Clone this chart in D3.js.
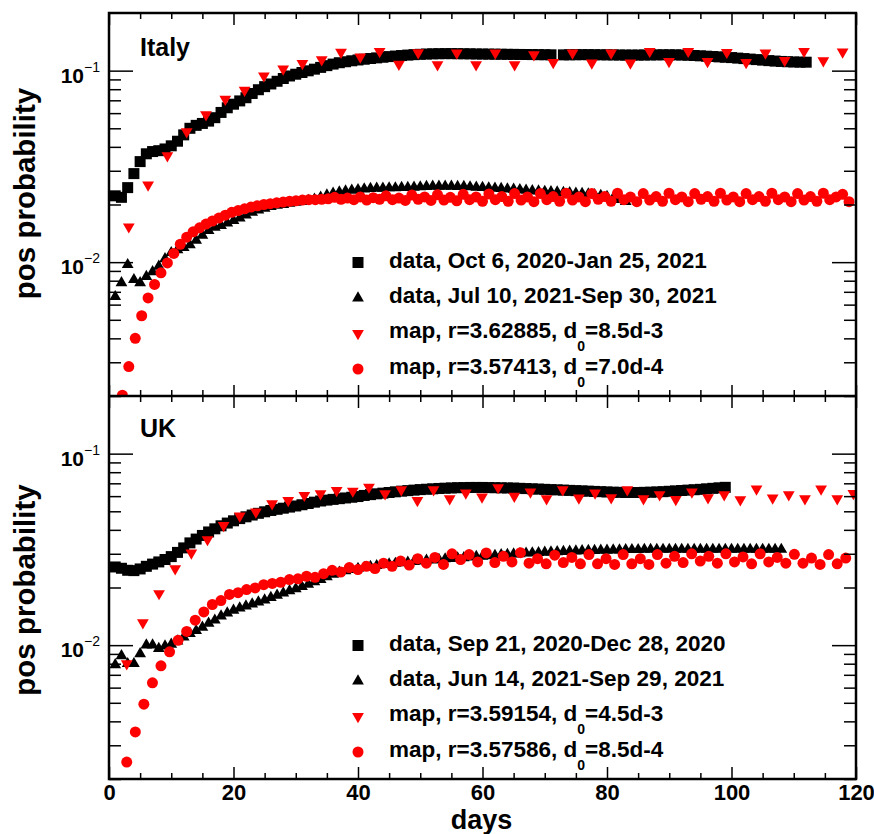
<!DOCTYPE html>
<html><head><meta charset="utf-8">
<script src="https://cdn.jsdelivr.net/npm/d3@7"></script>
<style>body{margin:0;background:#fff}svg{display:block}</style>
</head><body>
<svg id="chart" width="874" height="834"></svg>
<script>
// ---------------- DATA ----------------
const xMajorTicks = [0, 20, 40, 60, 80, 100, 120];
const xMinorTicks = [5, 10, 15, 25, 30, 35, 45, 50, 55, 65, 70, 75, 85, 90, 95, 105, 110, 115];
const yMajorTicks = [0.01, 0.1];
const yMajorLabels = ["\u22122", "\u22121"];
const yMinorTicks = [0.002, 0.003, 0.004, 0.005, 0.006, 0.007, 0.008, 0.009, 0.02, 0.03, 0.04, 0.05, 0.06, 0.07, 0.08, 0.09];

// Italy: data Oct 6, 2020 - Jan 25, 2021 (day 1..112, day 72 missing)
const italyDataA = [.0222,.0218,.0245,.0290,.0335,.0368,.0378,.0382,.0390,.0405,
 .0428,.0462,.0500,.0518,.0530,.0545,.0568,.0605,.0640,.0668,
 .0695,.0722,.0760,.0795,.0825,.0852,.0880,.0910,.0938,.0958,
 .0978,.0998,.1018,.1040,.1062,.1082,.1100,.1113,.1126,.1137,
 .1147,.1157,.1166,.1175,.1184,.1192,.1199,.1206,.1212,.1217,
 .1221,.1224,.1226,.1227,.1227,.1226,.1225,.1224,.1222,.1221,
 .1220,.1219,.1218,.1217,.1216,.1215,.1214,.1213,.1212,.1211,
 .1210,null,.1209,.1210,.1211,.1212,.1212,.1211,.1210,.1209,
 .1208,.1207,.1206,.1206,.1206,.1207,.1208,.1209,.1210,.1210,
 .1209,.1207,.1204,.1200,.1195,.1190,.1185,.1180,.1175,.1170,
 .1163,.1156,.1149,.1142,.1135,.1128,.1122,.1117,.1113,.1110,
 .1108,.1107];
// Italy: data Jul 10, 2021 - Sep 30, 2021 (day 1..83)
const italyDataB = [.0066,.0078,.0097,.0081,.0078,.0084,.0089,.0095,.0104,.0112,
 .0116,.0119,.0123,.0130,.0138,.0146,.0152,.0155,.0160,.0165,
 .0170,.0176,.0182,.0187,.0191,.0195,.0198,.0200,.0203,.0205,
 .0207,.0210,.0213,.0218,.0224,.0229,.0232,.0235,.0237,.0239,
 .0241,.0242,.0243,.0243,.0244,.0244,.0245,.0245,.0246,.0247,
 .0248,.0249,.0249,.0249,.0249,.0248,.0248,.0247,.0246,.0245,
 .0244,.0243,.0242,.0241,.0240,.0239,.0237,.0236,.0235,.0234,
 .0233,.0232,.0231,.0230,.0229,.0228,.0227,.0225,.0223,.0220,
 .0216,.0212,.0207];
// Italy: map r=3.62885
const italyMapADays = [3.18,6.28,9.38,12.48,15.58,18.68,21.78,24.88,27.98,31.07,
 34.17,37.27,40.37,43.47,46.57,49.67,52.77,55.87,58.97,62.06,
 65.16,68.26,71.36,74.46,77.56,80.66,83.76,86.86,89.96,93.05,
 96.15,99.25,102.35,105.45,108.55,111.65,114.75,117.85];
const italyMapA = [.0153,.0253,.0360,.0480,.0589,.0710,.0790,.0940,.1020,.1090,
 .1140,.1250,.1180,.1260,.1080,.1240,.1075,.1237,.1075,.1237,
 .1075,.1213,.1105,.1237,.1097,.1237,.1097,.1262,.1118,.1262,
 .1118,.1247,.1105,.1237,.1132,.1262,.1128,.1252];
// Italy: map r=3.57413
const italyMapBDays = [2.15,3.18,4.22,5.25,6.28,7.32,8.35,9.38,10.41,11.45,
 12.48,13.51,14.55,15.58,16.61,17.65,18.68,19.71,20.74,21.78,
 22.81,23.84,24.88,25.91,26.94,27.98,29.01,30.04,31.07,32.11,
 33.14,34.17,35.21,36.24,37.27,38.31,39.34,40.37,41.40,42.44,
 43.47,44.50,45.54,46.57,47.60,48.64,49.67,50.70,51.73,52.77,
 53.80,54.83,55.87,56.90,57.93,58.97,60.00,61.03,62.06,63.10,
 64.13,65.16,66.20,67.23,68.26,69.30,70.33,71.36,72.39,73.43,
 74.46,75.49,76.53,77.56,78.59,79.63,80.66,81.69,82.72,83.76,
 84.79,85.82,86.86,87.89,88.92,89.96,90.99,92.02,93.05,94.09,
 95.12,96.15,97.19,98.22,99.25,100.29,101.32,102.35,103.38,104.42,
 105.45,106.48,107.52,108.55,109.58,110.62,111.65,112.68,113.71,114.75,
 115.78,116.81,117.85,118.88];
const italyMapB = [.00202,.00285,.00400,.00525,.00650,.00765,.00880,.00990,.0111,.0124,
 .0135,.0144,.0151,.0158,.0164,.0170,.0176,.0182,.0186,.0190,
 .0194,.0197,.0200,.0202,.0204,.0206,.0208,.0209,.0211,.0212,
 .0212,.0213,.0214,.0218,.0213,.0216,.0212,.0219,.0211,.0217,
 .0213,.0222,.0212,.0216,.0210,.0224,.0213,.0219,.0210,.0225,
 .0211,.0218,.0209,.0226,.0212,.0219,.0208,.0227,.0212,.0220,
 .0208,.0228,.0211,.0219,.0207,.0228,.0212,.0220,.0208,.0229,
 .0211,.0219,.0207,.0228,.0213,.0220,.0208,.0229,.0212,.0219,
 .0207,.0228,.0211,.0220,.0208,.0229,.0212,.0219,.0207,.0228,
 .0213,.0220,.0208,.0229,.0211,.0219,.0207,.0228,.0212,.0220,
 .0208,.0229,.0212,.0219,.0207,.0228,.0211,.0220,.0208,.0229,
 .0212,.0219,.0226,.0207];

// UK: data Sep 21, 2020 - Dec 28, 2020 (day 1..99)
const ukDataA = [.0256,.0252,.0246,.0245,.0250,.0258,.0265,.0272,.0280,.0290,
 .0305,.0322,.0342,.0358,.0374,.0390,.0405,.0420,.0434,.0446,
 .0458,.0468,.0478,.0488,.0497,.0505,.0512,.0519,.0526,.0533,
 .0541,.0549,.0558,.0566,.0572,.0577,.0582,.0587,.0592,.0597,
 .0605,.0611,.0617,.0622,.0627,.0632,.0637,.0641,.0645,.0649,
 .0652,.0655,.0658,.0660,.0662,.0664,.0665,.0666,.0666,.0666,
 .0665,.0664,.0663,.0662,.0661,.0659,.0657,.0655,.0653,.0651,
 .0649,.0647,.0645,.0643,.0641,.0639,.0637,.0635,.0633,.0631,
 .0629,.0628,.0627,.0627,.0627,.0628,.0629,.0631,.0633,.0636,
 .0639,.0642,.0645,.0648,.0651,.0655,.0659,.0663,.0667];
// UK: data Jun 14, 2021 - Sep 29, 2021 (day 1..108)
const ukDataB = [.0079,.0088,.0080,.0080,.0090,.0100,.0100,.0096,.0099,.0101,
 .0105,.0110,.0115,.0119,.0124,.0130,.0135,.0142,.0147,.0152,
 .0156,.0160,.0164,.0168,.0172,.0177,.0182,.0187,.0192,.0197,
 .0202,.0208,.0214,.0220,.0227,.0234,.0240,.0244,.0248,.0251,
 .0254,.0257,.0260,.0263,.0265,.0267,.0269,.0271,.0273,.0275,
 .0277,.0278,.0280,.0282,.0283,.0285,.0286,.0288,.0290,.0291,
 .0293,.0294,.0296,.0297,.0299,.0300,.0302,.0303,.0304,.0305,
 .0306,.0307,.0308,.0309,.0310,.0311,.0312,.0312,.0313,.0313,
 .0314,.0314,.0315,.0315,.0315,.0316,.0316,.0316,.0316,.0316,
 .0316,.0316,.0316,.0316,.0316,.0316,.0316,.0316,.0316,.0316,
 .0316,.0316,.0316,.0316,.0316,.0316,.0316,.0316];
// UK: map r=3.59154
const ukMapADays = [2.85,5.44,8.04,10.63,13.23,15.82,18.41,21.01,23.60,26.20,
 28.79,31.38,33.98,36.57,39.17,41.76,44.35,46.95,49.54,52.14,
 54.73,57.32,59.92,62.51,65.11,67.70,70.29,72.89,75.48,78.08,
 80.67,83.26,85.86,88.45,91.05,93.64,96.23,98.83,101.42,104.02,
 106.61,109.20,111.80,114.39,116.99,119.58];
const ukMapA = [.0080,.0131,.0186,.0251,.0303,.0356,.0422,.0473,.0496,.0548,
 .0570,.0606,.0618,.0643,.0638,.0669,.0618,.0649,.0570,.0649,
 .0582,.0623,.0594,.0665,.0599,.0631,.0582,.0649,.0587,.0623,
 .0589,.0649,.0582,.0611,.0577,.0631,.0589,.0611,.0575,.0655,
 .0587,.0611,.0582,.0655,.0582,.0620];
// UK: map r=3.57586
const ukMapBDays = [2.85,4.23,5.60,6.98,8.35,9.73,11.10,12.48,13.85,15.23,
 16.60,17.98,19.35,20.73,22.10,23.48,24.85,26.23,27.60,28.98,
 30.35,31.73,33.10,34.48,35.85,37.23,38.60,39.98,41.35,42.73,
 44.10,45.48,46.85,48.23,49.60,50.98,52.35,53.73,55.10,56.48,
 57.85,59.23,60.60,61.98,63.35,64.73,66.10,67.48,68.85,70.23,
 71.60,72.98,74.35,75.73,77.10,78.48,79.85,81.23,82.60,83.98,
 85.35,86.73,88.10,89.48,90.85,92.23,93.60,94.98,96.35,97.73,
 99.10,100.48,101.85,103.23,104.60,105.98,107.35,108.73,110.10,111.48,
 112.85,114.23,115.60,116.98,118.35];
const ukMapB = [.00245,.00352,.00492,.00636,.00780,.00923,.0106,.0118,.0135,.0149,
 .0163,.0171,.0184,.0188,.0195,.0199,.0207,.0210,.0213,.0220,
 .0222,.0229,.0226,.0236,.0246,.0241,.0254,.0248,.0258,.0251,
 .0268,.0258,.0275,.0262,.0283,.0268,.0287,.0264,.0300,.0280,
 .0297,.0272,.0303,.0270,.0291,.0272,.0304,.0268,.0283,.0266,
 .0295,.0270,.0287,.0266,.0297,.0266,.0283,.0264,.0297,.0266,
 .0283,.0264,.0297,.0268,.0291,.0270,.0300,.0275,.0291,.0268,
 .0300,.0272,.0289,.0266,.0300,.0272,.0287,.0268,.0298,.0268,
 .0285,.0264,.0297,.0266,.0285];

const italyLegend = [
  ["data, Oct 6, 2020-Jan 25, 2021", "", ""],
  ["data, Jul 10, 2021-Sep 30, 2021", "", ""],
  ["map, r=3.62885, d", "0", "=8.5d-3"],
  ["map, r=3.57413, d", "0", "=7.0d-4"]
];
const ukLegend = [
  ["data, Sep 21, 2020-Dec 28, 2020", "", ""],
  ["data, Jun 14, 2021-Sep 29, 2021", "", ""],
  ["map, r=3.59154, d", "0", "=4.5d-3"],
  ["map, r=3.57586, d", "0", "=8.5d-4"]
];

// ---------------- DRAWING ----------------
const FONT = "'Liberation Sans', Arial, Helvetica, sans-serif";
const svg = d3.select("#chart").style("font-family", FONT);
svg.append("rect").attr("width", 874).attr("height", 834).attr("fill", "#fff");

const L = 109, R = 856;
const x = d3.scaleLinear().domain([0, 120]).range([L, R]);

const markerDefs = [
  {type: d3.symbolSquare, size: 121, color: "#000", rot: 0},
  {type: d3.symbolTriangle, size: 60, color: "#000", rot: 0},
  {type: d3.symbolTriangle, size: 60, color: "#f00", rot: 180},
  {type: d3.symbolCircle, size: 95, color: "#f00", rot: 0}
];

const panels = [
  {name: "Italy", top: 13, bottom: 396, titleY: 193.5,
   series: [
     {days: italyDataA.map((v, i) => i + 1), vals: italyDataA},
     {days: italyDataB.map((v, i) => i + 1), vals: italyDataB},
     {days: italyMapADays, vals: italyMapA},
     {days: italyMapBDays, vals: italyMapB}],
   legend: italyLegend},
  {name: "UK", top: 396, bottom: 779, titleY: 590,
   series: [
     {days: ukDataA.map((v, i) => i + 1), vals: ukDataA},
     {days: ukDataB.map((v, i) => i + 1), vals: ukDataB},
     {days: ukMapADays, vals: ukMapA},
     {days: ukMapBDays, vals: ukMapB}],
   legend: ukLegend}
];

panels.forEach((p, pi) => {
  const y = d3.scaleLog().domain([0.002, 0.2]).range([p.bottom, p.top]);
  const clipId = "clip" + pi;
  svg.append("clipPath").attr("id", clipId).append("rect")
    .attr("x", L).attr("y", p.top).attr("width", R - L).attr("height", p.bottom - p.top);

  // markers
  const gm = svg.append("g").attr("clip-path", `url(#${clipId})`);
  p.series.forEach((s, si) => {
    const md = markerDefs[si];
    const sym = d3.symbol().type(md.type).size(md.size);
    const pts = s.vals.map((v, i) => [s.days[i], v]).filter(d => d[1] != null);
    gm.append("g").selectAll("path").data(pts).join("path")
      .attr("d", sym)
      .attr("fill", md.color)
      .attr("transform", d => `translate(${x(d[0])},${y(d[1])}) rotate(${md.rot})`);
  });

  // axes ticks
  const tickStyle = g => {
    g.select(".domain").remove();
    g.selectAll(".tick line").attr("stroke", "#000").attr("stroke-width", 1.5);
    g.selectAll(".tick text").remove();
  };
  svg.append("g").attr("transform", `translate(${L},0)`)
    .call(d3.axisRight(y).tickValues(yMajorTicks).tickSize(24)).call(tickStyle);
  svg.append("g").attr("transform", `translate(${L},0)`)
    .call(d3.axisRight(y).tickValues(yMinorTicks).tickSize(12)).call(tickStyle);
  svg.append("g").attr("transform", `translate(${R},0)`)
    .call(d3.axisLeft(y).tickValues(yMajorTicks).tickSize(24)).call(tickStyle);
  svg.append("g").attr("transform", `translate(${R},0)`)
    .call(d3.axisLeft(y).tickValues(yMinorTicks).tickSize(12)).call(tickStyle);
  svg.append("g").attr("transform", `translate(0,${p.top})`)
    .call(d3.axisBottom(x).tickValues(xMajorTicks).tickSize(12)).call(tickStyle);
  svg.append("g").attr("transform", `translate(0,${p.top})`)
    .call(d3.axisBottom(x).tickValues(xMinorTicks).tickSize(6)).call(tickStyle);
  svg.append("g").attr("transform", `translate(0,${p.bottom})`)
    .call(d3.axisTop(x).tickValues(xMajorTicks).tickSize(pi === 0 ? 11 : 12)).call(tickStyle);
  svg.append("g").attr("transform", `translate(0,${p.bottom})`)
    .call(d3.axisTop(x).tickValues(xMinorTicks).tickSize(6)).call(tickStyle);

  // y tick labels 10^-n
  const yl = svg.append("g").attr("transform", `translate(${L},0)`)
    .call(d3.axisLeft(y).tickValues(yMajorTicks).tickSize(0).tickPadding(9).tickFormat(() => ""));
  yl.select(".domain").remove();
  yl.selectAll(".tick text").each(function(d, i) {
    const t = d3.select(this).attr("dy", null).attr("fill", "#000")
      .attr("font-family", FONT).attr("text-anchor", "end");
    t.append("tspan").attr("dy", 11.5).attr("font-size", 21).attr("font-weight", "bold").text("10");
    t.append("tspan").attr("dy", -11).attr("font-size", 14).text(yMajorLabels[i]);
  });

  // panel name
  svg.append("text").attr("x", 140).attr("y", p.top + (pi === 0 ? 43 : 41))
    .attr("font-size", 25).attr("font-weight", "bold").text(p.name);

  // y title
  svg.append("text").attr("transform", `translate(35,${p.titleY}) rotate(-90)`)
    .attr("text-anchor", "middle").attr("font-size", 29.5).attr("font-weight", "bold")
    .text("pos probability");

  // legend
  const legOff = [[249.5, 255], [285, 290], [320.5, 325], [356, 360.5]];
  p.legend.forEach((e, i) => {
    const md = markerDefs[i];
    svg.append("path").attr("d", d3.symbol().type(md.type).size(md.size)())
      .attr("fill", md.color)
      .attr("transform", `translate(358,${p.top + legOff[i][0]}) rotate(${md.rot})`);
    const t = svg.append("text").attr("x", 389).attr("y", p.top + legOff[i][1])
      .attr("font-size", 22.5).attr("font-weight", "bold");
    t.append("tspan").text(e[0]);
    if (e[1]) {
      t.append("tspan").attr("dy", 13).attr("font-size", 14).text(e[1]);
      t.append("tspan").attr("dy", -13).text(e[2]);
    }
  });
});

// x tick labels (bottom panel)
const xl = svg.append("g").attr("transform", "translate(0,779)")
  .call(d3.axisBottom(x).tickValues(xMajorTicks).tickSize(0).tickPadding(5));
xl.select(".domain").remove();
xl.selectAll(".tick text").attr("font-size", 22).attr("font-weight", "bold")
  .attr("font-family", FONT).attr("fill", "#000");

// frames
svg.append("rect").attr("x", L).attr("y", 13).attr("width", R - L).attr("height", 779 - 13)
  .attr("fill", "none").attr("stroke", "#000").attr("stroke-width", 2.5);
svg.append("line").attr("x1", L).attr("x2", R).attr("y1", 396).attr("y2", 396)
  .attr("stroke", "#000").attr("stroke-width", 2.5);

// x title
svg.append("text").attr("x", 481.5).attr("y", 829).attr("text-anchor", "middle")
  .attr("font-size", 27).attr("font-weight", "bold").text("days");
</script>
</body></html>
